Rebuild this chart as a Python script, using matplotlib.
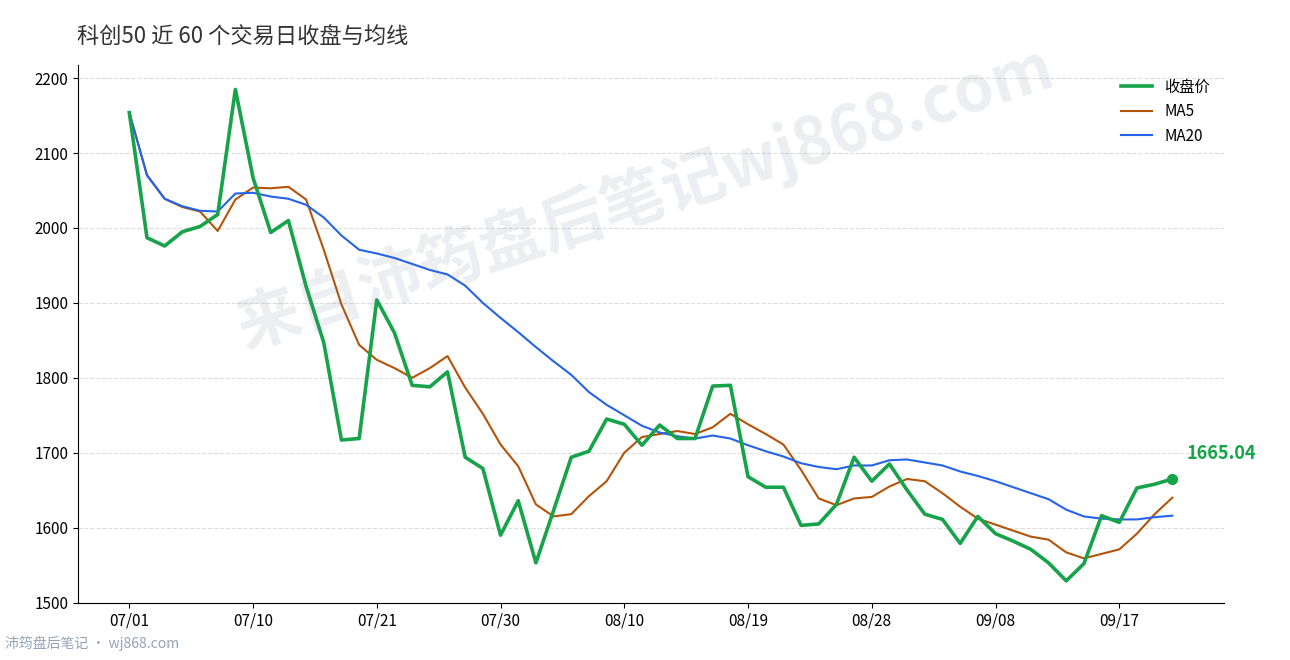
import matplotlib.pyplot as plt

plt.rcParams['font.family'] = ['Noto Sans CJK SC', 'DejaVu Sans']

close = [2154, 1987, 1976, 1995, 2002, 2018, 2185, 2067, 1994, 2010,
         1922, 1847, 1717, 1719, 1904, 1860, 1790, 1788, 1808, 1694,
         1679, 1590, 1636, 1553, 1623, 1694, 1702, 1745, 1738, 1710,
         1737, 1719, 1719, 1789, 1790, 1668, 1654, 1654, 1603, 1605,
         1631, 1694, 1662, 1685, 1650, 1618, 1611, 1579, 1615, 1592,
         1582, 1571, 1553, 1529, 1552, 1616, 1607, 1653, 1658, 1665.04]
ma5 = [2154, 2071, 2039, 2028, 2022, 1996, 2038, 2054, 2053, 2055,
       2038, 1971, 1898, 1844, 1824, 1813, 1800, 1813, 1829, 1787,
       1752, 1711, 1682, 1631, 1615, 1618, 1642, 1662, 1700, 1721,
       1725, 1729, 1725, 1734, 1752, 1738, 1725, 1711, 1677, 1639,
       1630, 1639, 1641, 1655, 1665, 1662, 1646, 1628, 1612, 1604,
       1596, 1588, 1584, 1567, 1559, 1565, 1571, 1592, 1618, 1640]
ma20 = [2154, 2070, 2039, 2029, 2023, 2022, 2046, 2047, 2042, 2039,
        2031, 2014, 1990, 1971, 1966, 1960, 1952, 1944, 1938, 1923,
        1900, 1880, 1861, 1841, 1822, 1804, 1781, 1764, 1750, 1736,
        1727, 1722, 1719, 1723, 1719, 1710, 1702, 1695, 1686, 1681,
        1678, 1683, 1683, 1690, 1691, 1687, 1683, 1675, 1669, 1662,
        1654, 1646, 1638, 1624, 1615, 1612, 1611, 1611, 1614, 1616]
tick_pos = [0, 7, 14, 21, 28, 35, 42, 49, 56]
tick_labels = ['07/01', '07/10', '07/21', '07/30', '08/10', '08/19', '08/28', '09/08', '09/17']

x = list(range(len(close)))
fig = plt.figure(figsize=(12.9, 6.6), dpi=100)
ax = fig.add_axes([0.0605, 0.087, 0.888, 0.815])

ax.plot(x, close, color='#16a34a', lw=2.6, label='收盘价', zorder=3)
ax.plot(x, ma5, color='#b45309', lw=1.5, label='MA5')
ax.plot(x, ma20, color='#2563eb', lw=1.5, label='MA20')
ax.scatter([x[-1]], [close[-1]], color='#16a34a', s=50, zorder=4)
ax.annotate(f'{close[-1]:.2f}', (x[-1], close[-1]), xytext=(10, 14),
            textcoords='offset points', color='#16a34a', fontsize=13, fontweight='bold')

ax.set_xlim(-2.9, 61.9)
ax.set_ylim(1500, 2218)
ax.set_yticks(range(1500, 2201, 100))
ax.set_xticks(tick_pos)
ax.set_xticklabels(tick_labels)
ax.tick_params(labelsize=11)
ax.grid(axis='y', color='#dddddd', ls='--', lw=0.8)
for s in ['top', 'right']:
    ax.spines[s].set_visible(False)
ax.legend(loc='upper right', frameon=False, fontsize=11)

fig.text(0.06, 0.944, '科创50 近 60 个交易日收盘与均线', fontsize=16, color='#333333', va='center')
fig.text(0.5, 0.70, '来自沛筠盘后笔记wj868.com', fontsize=46, color='#64748b', alpha=0.12,
         rotation=18, ha='center', va='center', fontweight='bold')
fig.text(0.004, 0.018, '沛筠盘后笔记 · wj868.com', fontsize=10, color='#94a3b8')

fig.savefig('out.png')
